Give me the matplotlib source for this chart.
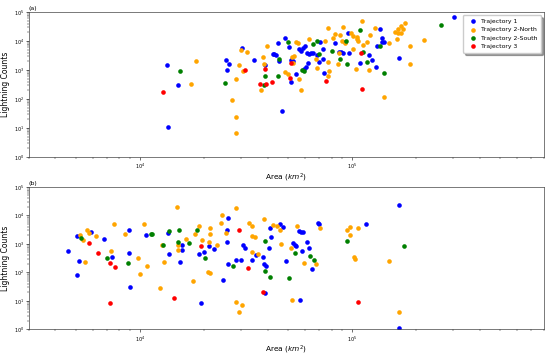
import matplotlib.pyplot as plt

# Panel (a) - area (km^2) vs lightning counts
a_t1_area = [13360, 13560, 15110, 25350, 25810, 26300, 30280, 34300, 38880, 44770,
             42270, 43000, 43810, 44990, 46890, 48140, 50250, 51400, 52480, 51550,
             54260, 56390, 57440, 58750, 60230, 61120, 62690, 63830, 65250, 62170,
             60670, 59570, 68150, 70630, 69660, 73200, 73200, 73540, 83130, 86520,
             89050, 90680, 95760, 92980, 96490, 108640, 119880, 123880, 129770, 135990,
             131620, 138040, 138040, 142010, 165600, 300600]
a_t1_count = [1490, 10.8, 297, 2270, 1000, 1610, 5600, 2210, 1450, 8730,
              3650, 3650, 3370, 2000, 37.6, 12400, 6360, 2210, 2090, 376,
              745, 5300, 4630, 5880, 6720, 3770, 3480, 3770, 3860, 1790,
              1300, 1110, 3290, 9460, 1840, 5420, 2340, 788, 8530, 4080,
              4080, 3950, 19300, 9240, 3770, 1740, 3210, 2210, 1240, 25900,
              6880, 12400, 9020, 9020, 2660, 65600]

a_t2n_area = [17340, 18370, 27070, 28250, 28450, 28450, 29210, 29950, 30620, 32080,
              37930, 38550, 39720, 37200, 48000, 49800, 51900, 53000, 52800, 54260,
              55460, 56230, 57280, 62470, 67610, 68150, 74580, 77330, 77330, 77930,
              76810, 81330, 83390, 87790, 90990, 85500, 86520, 89700, 99240, 100770,
              92980, 101090, 105200, 105870, 106670, 104740, 111460, 112330, 117300, 121180,
              120280, 128380, 149460, 141560, 159500, 165250, 169690, 174000, 177830, 165250,
              170200, 162930, 187200, 187200, 218600]
a_t2n_count = [329, 2040, 94.6, 23.9, 6.9, 478, 1530, 4780, 946, 4180,
               2810, 1610, 6560, 209, 833, 711, 2880, 3040, 1700, 9460,
               8330, 501, 199, 12000, 2400, 1150, 9770, 28800, 1930, 924,
               621, 12700, 17000, 16500, 31100, 1650, 3860, 10000, 18400, 14900,
               8800, 5180, 14100, 12000, 10000, 1080, 50100, 7280, 9240, 16500,
               977, 28800, 8330, 115, 20400, 25300, 32900, 25900, 40800, 18400,
               18400, 11700, 6560, 1570, 10800]

a_t2s_area = [15490, 25090, 38880, 38550, 44990, 44770, 50060, 58080, 59570, 65690,
              68370, 69840, 80750, 87400, 93970, 95050, 109420, 112330, 117300, 134570,
              141560, 260950]
a_t2s_count = [902, 356, 597, 297, 2300, 597, 9240, 1000, 946, 7690,
               10000, 3650, 4420, 2400, 10000, 1570, 23400, 4280, 1840, 6560,
               788, 35600]

a_t3_area = [12840, 31270, 36700, 38880, 39170, 41700, 51730, 50990, 75400, 110640, 111100]
a_t3_count = [170, 1020, 316, 1080, 340, 385, 1700, 518, 407, 3770, 216]

# Panel (b)
b_t1_area = [4600, 5045, 5045, 5184, 5875, 6762, 7352, 8922, 8922, 8940,
             10708, 13630, 13700, 15440, 15810, 15780, 19020, 19450, 20140, 21110,
             22340, 24710, 25640, 25800, 26000, 25950, 28280, 29790, 30510, 31210,
             33650, 35250, 37950, 38550, 39080, 39000, 40460, 41350, 41040, 45760,
             47120, 48840, 56850, 52860, 53670, 54450, 56420, 57440, 58540, 58080,
             61350, 62480, 64560, 69140, 69660, 116800, 166640, 166100]
b_t1_count = [565, 1890, 79, 245, 2530, 1450, 350, 2970, 490, 30,
              2000, 2400, 442, 239, 924, 621, 442, 8.1, 500, 873,
              660, 54, 1170, 3110, 8200, 200, 281, 281, 946, 720,
              275, 410, 350, 189, 168, 18.4, 720, 1700, 3690, 4890,
              3950, 259, 11.1, 1060, 924, 853, 2880, 2660, 2530, 542,
              1150, 711, 130, 5600, 4890, 4890, 22600, 1.08]

b_t2n_area = [5230, 5385, 5520, 5623, 5765, 6180, 7320, 7538, 8543, 9785,
              9967, 10444, 10790, 12386, 12650, 13050, 14950, 15170, 15190, 16480,
              17780, 18270, 18980, 19610, 20930, 21320, 21160, 21280, 21280, 23070,
              23990, 24430, 25350, 28370, 28370, 29210, 30180, 32780, 33730, 33570,
              34790, 33730, 36140, 38330, 42170, 44140, 45760, 46240, 51730, 52120,
              54830, 59370, 67860, 70630, 94400, 98170, 97860, 101870, 102970, 106400,
              149460, 165380]
b_t2n_count = [2040, 1340, 226, 2970, 2450, 1840, 574, 4890, 2210, 321,
               90, 5010, 168, 28, 902, 234, 18900, 890, 588, 1450,
               48, 2270, 4400, 1370, 106, 96, 1150, 3620, 2210, 902,
               5600, 10600, 2340, 18400, 9.2, 4.1, 7.1, 5600, 4180, 1890,
               1750, 530, 435, 7690, 4450, 4280, 2970, 1000, 740, 11.1,
               4280, 216, 200, 3560, 3110, 3950, 2000, 337, 288, 3560,
               253, 4.1]

b_t2s_area = [5253, 7014, 8776, 11230, 11355, 12840, 13700, 15060, 15320, 16970,
              18570, 20260, 27540, 38880, 39000, 41180, 50280, 53830, 63580, 66170,
              95050, 175380]
b_t2s_count = [1610, 311, 221, 2210, 2270, 924, 2740, 1170, 3000, 1110,
               2970, 329, 165, 1300, 108, 68, 66, 490, 385, 274,
               1300, 873]

b_t3_area = [5765, 6338, 7195, 7622, 7200, 14420, 19500, 29390, 32210, 38160, 106400]
b_t3_count = [1060, 478, 209, 150, 8.1, 12.4, 873, 2990, 145, 20.4, 9.2]

labels = ["Trajectory 1", "Trajectory 2-North", "Trajectory 2-South", "Trajectory 3"]
colors = ["blue", "orange", "green", "red"]

panels = [
    ("(a)", [(a_t1_area, a_t1_count), (a_t2n_area, a_t2n_count),
             (a_t2s_area, a_t2s_count), (a_t3_area, a_t3_count)]),
    ("(b)", [(b_t1_area, b_t1_count), (b_t2n_area, b_t2n_count),
             (b_t2s_area, b_t2s_count), (b_t3_area, b_t3_count)]),
]

fig = plt.figure(figsize=(5.5, 3.58), dpi=100)
ax1 = fig.add_axes([0.0527, 0.5615, 0.936, 0.405])
ax2 = fig.add_axes([0.0527, 0.0800, 0.936, 0.398])

for ax, (tag, series) in zip([ax1, ax2], panels):
    for (x, y), lab, c in zip(series, labels, colors):
        ax.scatter(x, y, s=11, color=c, label=lab, linewidths=0)
    ax.set_xscale("log")
    ax.set_yscale("log")
    ax.set_xlim(3000, 8e5)
    ax.set_ylim(1, 1e5)
    ax.set_title(tag, loc="left", fontsize=4.5, pad=1.5)
    ax.set_ylabel("Lightning Counts", fontsize=5.5, labelpad=3)
    ax.set_xlabel("Area ($km^2$)", fontsize=5.3, labelpad=0.3)
    ax.tick_params(which="major", labelsize=3.5, length=2, width=0.4, pad=1.5)
    ax.tick_params(which="minor", length=1.2, width=0.3)
    for sp in ax.spines.values():
        sp.set_linewidth(0.5)
        sp.set_color("#444444")

ax1.legend(loc="upper right", fontsize=4.4, shadow=True, handletextpad=0.3,
           borderpad=0.6, labelspacing=0.5, markerscale=1.0)

plt.savefig("out.png", dpi=100)
